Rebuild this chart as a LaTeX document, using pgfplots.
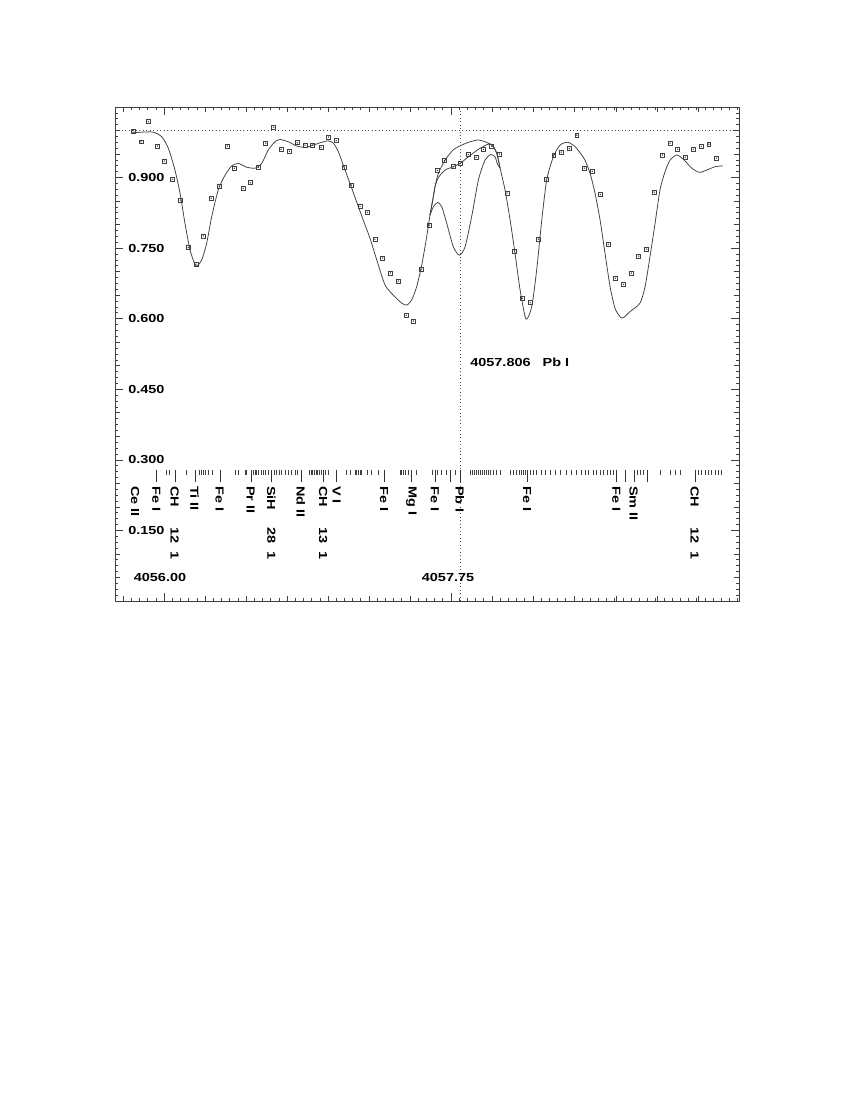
\documentclass[border=0pt]{standalone}
\usepackage{fontspec}
\setmainfont{Liberation Sans}[FakeStretch=1.24]
\usepackage{pgfplots}
\pgfplotsset{compat=1.18}

\begin{document}
\begin{tikzpicture}[lbl/.style={font=\fontsize{8.4}{9.5}\selectfont\bfseries, inner sep=0pt},
  vl/.style={lbl, rotate=-90, anchor=west}]
\path[use as bounding box] (0,0) rectangle (612pt,792pt);
\begin{axis}[
  at={(82.8pt,359.28pt)}, anchor=south west,
  width=449.28pt, height=355.68pt, scale only axis,
  xmin=4055.70, xmax=4059.50, ymin=0, ymax=1.05,
  axis line style={black!75, line width=0.6pt},
  tick align=inside, tick pos=both,
  every tick/.style={black!75, line width=0.5pt},
  major tick length=5.8pt, minor tick length=2.2pt,
  xtick={4056,4057.75}, xticklabels={},
  minor xtick={4055.70,4055.75,...,4059.50},
  ytick={0,0.15,...,1.06}, yticklabels={},
  minor y tick num=11,
  extra x ticks={4055.75,4056.25,4056.5,4056.75,4057,4057.25,4057.5,4058,4058.25,4058.5,4058.75,4059,4059.25},
  extra y ticks={0.05,0.1,0.2,0.25,0.35,0.4,0.5,0.55,0.65,0.7,0.8,0.85,0.95,1.0},
  extra x tick labels={}, extra y tick labels={},
  extra tick style={major tick length=3.6pt},
  clip=false,
]
% continuum and Pb I position
\addplot[black!70, dotted, line width=0.5pt] coordinates {(4055.70,1.0) (4059.50,1.0)};
\addplot[black!70, dotted, line width=0.5pt] coordinates {(4057.806,0) (4057.806,1.05)};

% synthetic spectra (three Pb abundances)
\addplot[gray!50!black, line width=0.55pt, smooth, tension=0.4] coordinates {
(4055.802,0.995) (4055.924,0.997) (4055.984,0.987) (4056.025,0.962) (4056.065,0.916)
(4056.096,0.867) (4056.126,0.803) (4056.157,0.746) (4056.193,0.712) (4056.228,0.725)
(4056.258,0.760) (4056.289,0.817) (4056.329,0.874) (4056.370,0.905) (4056.411,0.925)
(4056.451,0.930) (4056.502,0.922) (4056.553,0.920) (4056.593,0.930) (4056.634,0.959)
(4056.674,0.976) (4056.705,0.981) (4056.755,0.976) (4056.807,0.967) (4056.857,0.964)
(4056.908,0.969) (4056.959,0.975) (4056.999,0.978) (4057.030,0.973) (4057.060,0.955)
(4057.101,0.916) (4057.142,0.877) (4057.182,0.838) (4057.223,0.799) (4057.253,0.771)
(4057.294,0.725) (4057.344,0.672) (4057.395,0.650) (4057.446,0.633) (4057.477,0.629)
(4057.507,0.640) (4057.537,0.668) (4057.568,0.714) (4057.598,0.774) (4057.618,0.820)
(4057.639,0.860)
(4057.649,0.881) (4057.669,0.900) (4057.710,0.916) (4057.760,0.923) (4057.801,0.930)
(4057.852,0.944) (4057.913,0.960) (4057.973,0.971) (4058.000,0.969) (4058.026,0.950)
(4058.045,0.920) (4058.075,0.874) (4058.106,0.810) (4058.136,0.739) (4058.167,0.661)
(4058.203,0.599) (4058.238,0.626) (4058.268,0.704) (4058.299,0.810) (4058.329,0.895)
(4058.369,0.944) (4058.410,0.969) (4058.457,0.975) (4058.501,0.966) (4058.542,0.948)
(4058.562,0.937) (4058.593,0.909) (4058.623,0.867) (4058.654,0.810) (4058.684,0.739)
(4058.715,0.668) (4058.745,0.622) (4058.776,0.604) (4058.796,0.602) (4058.836,0.615)
(4058.897,0.633) (4058.928,0.668) (4058.958,0.732) (4058.989,0.803) (4059.019,0.874)
(4059.050,0.913) (4059.080,0.937) (4059.121,0.948) (4059.161,0.939) (4059.212,0.920)
(4059.259,0.911) (4059.304,0.916) (4059.354,0.923) (4059.401,0.925)
};
\addplot[gray!50!black, line width=0.55pt, smooth, tension=0.4] coordinates {
(4057.618,0.820) (4057.639,0.860) (4057.649,0.881) (4057.669,0.909) (4057.710,0.937)
(4057.760,0.959) (4057.811,0.969) (4057.862,0.976) (4057.913,0.980) (4057.953,0.976)
(4057.994,0.969) (4058.025,0.952) (4058.045,0.920)
};
\addplot[gray!50!black, line width=0.55pt, smooth, tension=0.4] coordinates {
(4057.618,0.820) (4057.639,0.838) (4057.665,0.847) (4057.690,0.838) (4057.720,0.803)
(4057.760,0.753) (4057.797,0.735) (4057.832,0.753) (4057.872,0.817) (4057.913,0.895)
(4057.953,0.937) (4057.988,0.949) (4058.014,0.944) (4058.030,0.928) (4058.045,0.920)
};

% observed spectrum
\pgfplotstableread{
lam f
4055.811 0.999
4055.858 0.976
4055.903 1.019
4055.958 0.967
4056.000 0.935
4056.049 0.896
4056.098 0.852
4056.146 0.751
4056.193 0.716
4056.238 0.776
4056.286 0.856
4056.335 0.882
4056.384 0.967
4056.427 0.920
4056.481 0.877
4056.524 0.889
4056.573 0.922
4056.618 0.973
4056.666 1.007
4056.711 0.960
4056.762 0.956
4056.810 0.974
4056.857 0.969
4056.902 0.969
4056.955 0.964
4057.001 0.986
4057.048 0.979
4057.096 0.922
4057.139 0.884
4057.192 0.839
4057.237 0.826
4057.283 0.769
4057.330 0.729
4057.377 0.697
4057.425 0.680
4057.474 0.607
4057.517 0.595
4057.564 0.705
4057.614 0.799
4057.663 0.915
4057.706 0.936
4057.760 0.923
4057.803 0.930
4057.852 0.949
4057.899 0.943
4057.945 0.960
4057.994 0.967
4058.040 0.950
4058.087 0.867
4058.132 0.744
4058.181 0.643
4058.229 0.634
4058.278 0.769
4058.327 0.896
4058.372 0.948
4058.418 0.954
4058.467 0.962
4058.512 0.990
4058.558 0.920
4058.607 0.913
4058.656 0.864
4058.704 0.758
4058.747 0.686
4058.796 0.673
4058.844 0.697
4058.889 0.733
4058.938 0.748
4058.984 0.869
4059.033 0.948
4059.080 0.973
4059.127 0.960
4059.173 0.943
4059.222 0.960
4059.271 0.966
4059.316 0.971
4059.362 0.941
}\obs
\addplot[only marks, mark=square, mark size=1.4pt, black!75, mark options={line width=0.45pt}] table[x=lam, y=f] {\obs};
\addplot[only marks, mark=*, mark size=0.25pt, black!75] table[x=lam, y=f] {\obs};

% line list: weak lines
\addplot[only marks, mark=|, mark size=1.8pt, black!75, mark options={line width=0.45pt}] coordinates {
(4056.015,0.2732) (4056.031,0.2732) (4056.132,0.2732) (4056.212,0.2732) (4056.224,0.2732)
(4056.236,0.2732) (4056.248,0.2732) (4056.268,0.2732) (4056.293,0.2732) (4056.435,0.2732)
(4056.451,0.2732) (4056.492,0.2732) (4056.502,0.2732) (4056.542,0.2732) (4056.553,0.2732)
(4056.563,0.2732) (4056.573,0.2732) (4056.593,0.2732) (4056.603,0.2732) (4056.614,0.2732)
(4056.634,0.2732) (4056.670,0.2732) (4056.685,0.2732) (4056.699,0.2732) (4056.715,0.2732)
(4056.735,0.2732) (4056.755,0.2732) (4056.776,0.2732) (4056.796,0.2732) (4056.813,0.2732)
(4056.882,0.2732) (4056.894,0.2732) (4056.902,0.2732) (4056.914,0.2732) (4056.924,0.2732)
(4056.934,0.2732) (4056.942,0.2732) (4056.955,0.2732) (4056.979,0.2732) (4056.999,0.2732)
(4057.111,0.2732) (4057.131,0.2732) (4057.162,0.2732) (4057.172,0.2732) (4057.182,0.2732)
(4057.192,0.2732) (4057.202,0.2732) (4057.239,0.2732) (4057.263,0.2732) (4057.304,0.2732)
(4057.436,0.2732) (4057.446,0.2732) (4057.456,0.2732) (4057.466,0.2732) (4057.486,0.2732)
(4057.537,0.2732) (4057.635,0.2732) (4057.663,0.2732) (4057.690,0.2732) (4057.716,0.2732)
(4057.771,0.2732) (4057.862,0.2732) (4057.874,0.2732) (4057.886,0.2732) (4057.899,0.2732)
(4057.911,0.2732) (4057.923,0.2732) (4057.935,0.2732) (4057.947,0.2732) (4057.960,0.2732)
(4057.972,0.2732) (4057.984,0.2732) (4058.002,0.2732) (4058.020,0.2732) (4058.045,0.2732)
(4058.106,0.2732) (4058.126,0.2732) (4058.146,0.2732) (4058.162,0.2732) (4058.177,0.2732)
(4058.187,0.2732) (4058.197,0.2732) (4058.227,0.2732) (4058.248,0.2732) (4058.268,0.2732)
(4058.299,0.2732) (4058.319,0.2732) (4058.349,0.2732) (4058.380,0.2732) (4058.410,0.2732)
(4058.451,0.2732) (4058.481,0.2732) (4058.512,0.2732) (4058.542,0.2732) (4058.562,0.2732)
(4058.583,0.2732) (4058.613,0.2732) (4058.634,0.2732) (4058.654,0.2732) (4058.674,0.2732)
(4058.695,0.2732) (4058.715,0.2732) (4058.735,0.2732) (4058.881,0.2732) (4058.897,0.2732)
(4058.917,0.2732) (4059.019,0.2732) (4059.080,0.2732) (4059.111,0.2732) (4059.141,0.2732)
(4059.252,0.2732) (4059.273,0.2732) (4059.293,0.2732) (4059.313,0.2732) (4059.334,0.2732)
(4059.354,0.2732) (4059.374,0.2732) (4059.395,0.2732)
};
% line list: identified lines
\addplot[only marks, mark=|, mark size=4.3pt, black!80, mark options={line width=0.5pt}] coordinates {
(4055.954,0.2657) (4056.065,0.2657) (4056.187,0.2657) (4056.339,0.2657) (4056.528,0.2657)
(4056.654,0.2657) (4056.833,0.2657) (4056.969,0.2657) (4057.050,0.2657) (4057.340,0.2657)
(4057.507,0.2657) (4057.649,0.2657) (4057.744,0.2657) (4057.801,0.2657) (4058.211,0.2657)
(4058.755,0.2657) (4058.806,0.2657) (4058.861,0.2657) (4058.942,0.2657) (4059.232,0.2657)
};

% line identifications
\node[vl] at (axis cs:4055.822,0.2445) {Ce II};
\node[vl] at (axis cs:4055.952,0.2445) {Fe I};
\node[vl] at (axis cs:4056.063,0.2445) {CH};
\node[vl] at (axis cs:4056.063,0.157) {12\ \ 1};
\node[vl] at (axis cs:4056.185,0.2445) {Ti II};
\node[vl] at (axis cs:4056.337,0.2445) {Fe I};
\node[vl] at (axis cs:4056.526,0.2445) {Pr II};
\node[vl] at (axis cs:4056.652,0.2445) {SiH};
\node[vl] at (axis cs:4056.652,0.157) {28\ \ 1};
\node[vl] at (axis cs:4056.831,0.2445) {Nd II};
\node[vl] at (axis cs:4056.967,0.2445) {CH};
\node[vl] at (axis cs:4056.967,0.157) {13\ \ 1};
\node[vl] at (axis cs:4057.050,0.2445) {V I};
\node[vl] at (axis cs:4057.338,0.2445) {Fe I};
\node[vl] at (axis cs:4057.505,0.2445) {Mg I};
\node[vl] at (axis cs:4057.647,0.2445) {Fe I};
\node[vl] at (axis cs:4057.799,0.2445) {Pb I};
\node[vl] at (axis cs:4058.209,0.2445) {Fe I};
\node[vl] at (axis cs:4058.753,0.2445) {Fe I};
\node[vl] at (axis cs:4058.859,0.2445) {Sm II};
\node[vl] at (axis cs:4059.230,0.2445) {CH};
\node[vl] at (axis cs:4059.230,0.157) {12\ \ 1};

\node[lbl, anchor=west] at (axis cs:4057.862,0.508) {4057.806\ \ \ Pb I};

% tick numbers (drawn inside the frame)
\node[lbl, anchor=west] at (axis cs:4055.779,0.15) {0.150};
\node[lbl, anchor=west] at (axis cs:4055.779,0.30) {0.300};
\node[lbl, anchor=west] at (axis cs:4055.779,0.45) {0.450};
\node[lbl, anchor=west] at (axis cs:4055.779,0.60) {0.600};
\node[lbl, anchor=west] at (axis cs:4055.779,0.75) {0.750};
\node[lbl, anchor=west] at (axis cs:4055.779,0.90) {0.900};
\node[lbl] at (axis cs:4055.974,0.049) {4056.00};
\node[lbl] at (axis cs:4057.728,0.049) {4057.75};
\end{axis}
\end{tikzpicture}
\end{document}
